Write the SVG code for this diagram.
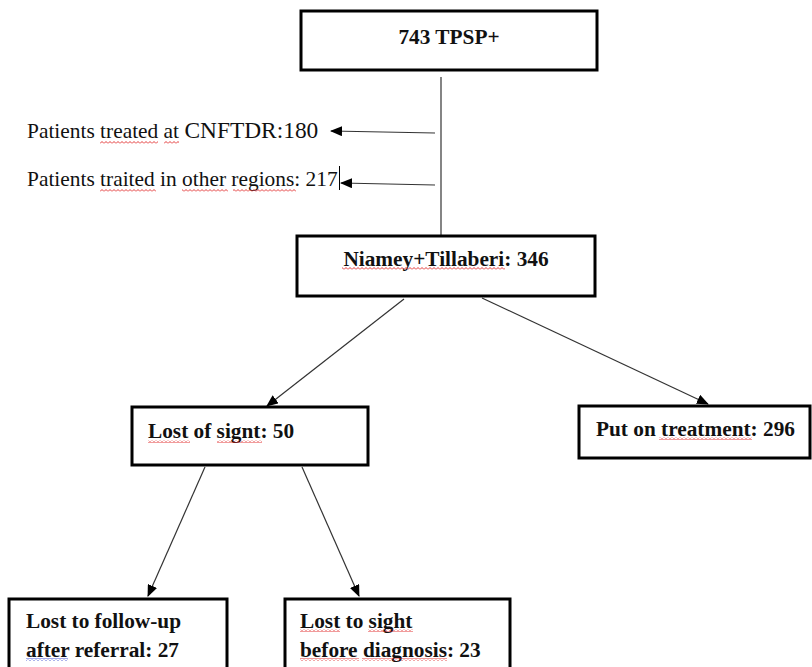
<svg xmlns="http://www.w3.org/2000/svg" width="812" height="667" viewBox="0 0 812 667">
<defs>
  <marker id="arr" markerWidth="12" markerHeight="10" refX="11" refY="5" orient="auto" markerUnits="userSpaceOnUse">
    <path d="M0,0 L12,5 L0,10 Z" fill="#000"/>
  </marker>
  <pattern id="redwave" width="4" height="3" patternUnits="userSpaceOnUse">
    <path d="M0,2.5 L2,0.5 L4,2.5" fill="none" stroke="#e02020" stroke-width="0.9"/>
  </pattern>
  <pattern id="bluewave" width="4" height="3" patternUnits="userSpaceOnUse">
    <path d="M0,2.5 L2,0.5 L4,2.5" fill="none" stroke="#3040d0" stroke-width="0.9"/>
  </pattern>
</defs>
<style>
  .box { fill: #fff; stroke: #000; stroke-width: 3; }
  .b { font-family: "Liberation Serif", "Times New Roman", serif; font-weight: bold; font-size: 21.3px; fill: #111; }
  .r { font-family: "Liberation Serif", "Times New Roman", serif; font-size: 21.4px; fill: #111; }
  .c { fill: none; stroke: #333; stroke-width: 1.2; }
  .rw { fill: url(#redwave); }
  .bw { fill: url(#bluewave); }
</style>
<rect width="812" height="667" fill="#fff"/>

<g id="connectors">
  <line class="c" x1="441" y1="77" x2="441" y2="235"/>
  <line class="c" x1="435" y1="133" x2="331" y2="131" marker-end="url(#arr)"/>
  <line class="c" x1="435" y1="185" x2="341" y2="183" marker-end="url(#arr)"/>
  <line class="c" x1="404" y1="299" x2="267" y2="406" marker-end="url(#arr)"/>
  <line class="c" x1="482" y1="298" x2="708" y2="404" marker-end="url(#arr)"/>
  <line class="c" x1="205" y1="467" x2="148" y2="596" marker-end="url(#arr)"/>
  <line class="c" x1="302" y1="467" x2="359" y2="596" marker-end="url(#arr)"/>
</g>

<g id="node-total">
  <rect class="box" x="301" y="11" width="296" height="59"/>
  <text class="b" x="449" y="44" text-anchor="middle">743 TPSP+</text>
</g>

<g id="label-cnftdr">
  <text class="r" x="27" y="138">Patients treated at <tspan font-size="23.4px">CNFTDR:180</tspan></text>
  <rect class="rw" x="100" y="141" width="58" height="3"/>
  <rect class="rw" x="164" y="141" width="15" height="3"/>
</g>

<g id="label-other">
  <text class="r" x="27" y="186">Patients traited in other regions: 217</text>
  <rect class="rw" x="100" y="189" width="56" height="3"/>
  <rect class="rw" x="182" y="189" width="46" height="3"/>
  <rect class="rw" x="233" y="189" width="63" height="3"/>
  <line x1="339.5" y1="166" x2="339.5" y2="190" stroke="#000" stroke-width="1"/>
</g>

<g id="node-niamey">
  <rect class="box" x="297" y="236" width="298" height="60"/>
  <text class="b" x="446" y="266" text-anchor="middle">Niamey+Tillaberi: 346</text>
  <rect class="rw" x="342" y="267" width="163" height="3"/>
</g>

<g id="node-lost-signt">
  <rect class="box" x="132" y="407" width="236" height="58"/>
  <text class="b" x="148" y="438">Lost of signt: 50</text>
  <rect class="rw" x="148" y="440" width="42" height="3"/>
  <rect class="rw" x="217" y="440" width="45" height="3"/>
</g>

<g id="node-treatment">
  <rect class="box" x="579" y="406" width="231" height="52"/>
  <text class="b" x="596" y="436">Put on treatment: 296</text>
  <rect class="rw" x="659" y="437" width="93" height="3"/>
</g>

<g id="node-followup">
  <rect class="box" x="9" y="599" width="218" height="80"/>
  <text class="b" x="26" y="628">Lost to follow-up</text>
  <text class="b" x="26" y="657">after referral: 27</text>
  <rect class="bw" x="26" y="658" width="42" height="3"/>
</g>

<g id="node-sight">
  <rect class="box" x="285" y="599" width="225" height="80"/>
  <text class="b" x="300" y="628">Lost to sight</text>
  <text class="b" x="300" y="657">before diagnosis: 23</text>
  <rect class="rw" x="300" y="629" width="40" height="3"/>
  <rect class="rw" x="368" y="629" width="45" height="3"/>
  <rect class="rw" x="300" y="658" width="59" height="3"/>
  <rect class="rw" x="362" y="658" width="85" height="3"/>
</g>
</svg>
